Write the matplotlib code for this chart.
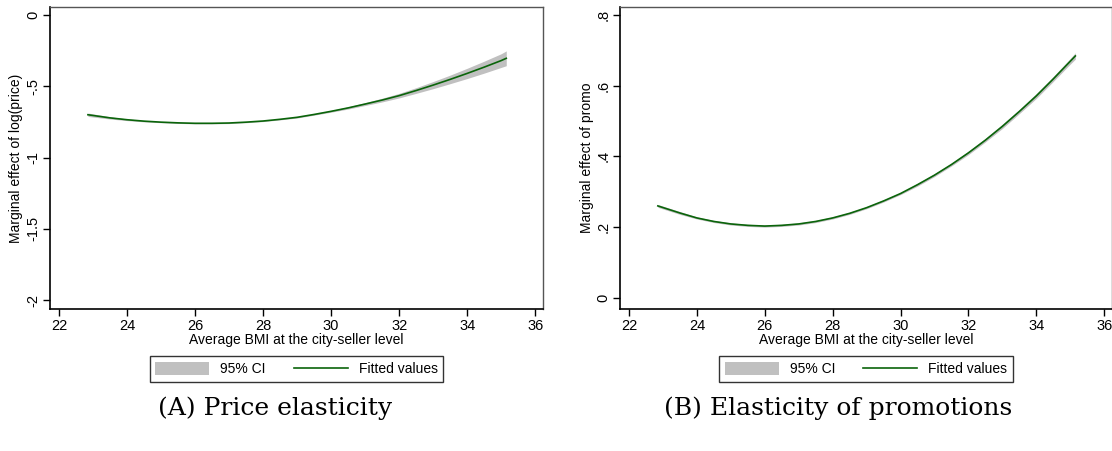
import matplotlib
matplotlib.use("Agg")
import matplotlib.pyplot as plt
from matplotlib.patches import Patch
from matplotlib.lines import Line2D
import numpy as np

# ---- data ----
bmi = [22.85, 23.5, 24, 24.5, 25, 25.5, 26, 26.5, 27, 27.5, 28, 28.5, 29,
       29.5, 30, 30.5, 31, 31.5, 32, 32.5, 33, 33.5, 34, 34.5, 35, 35.15]
price_fit = [-0.700, -0.722, -0.735, -0.745, -0.752, -0.757, -0.760, -0.760,
             -0.758, -0.752, -0.744, -0.732, -0.718, -0.698, -0.676, -0.652,
             -0.625, -0.597, -0.566, -0.530, -0.492, -0.452, -0.410, -0.366,
             -0.320, -0.304]
price_ci_half = [0.012, 0.008, 0.006, 0.005, 0.004, 0.004, 0.004, 0.004,
                 0.004, 0.004, 0.004, 0.004, 0.005, 0.005, 0.006, 0.008,
                 0.010, 0.013, 0.016, 0.020, 0.025, 0.030, 0.036, 0.042,
                 0.048, 0.052]
promo_fit = [0.260, 0.240, 0.226, 0.216, 0.209, 0.205, 0.203, 0.205, 0.209,
             0.216, 0.226, 0.239, 0.255, 0.274, 0.295, 0.320, 0.347, 0.377,
             0.410, 0.446, 0.485, 0.527, 0.571, 0.619, 0.669, 0.684]
promo_ci_half = [0.004, 0.004, 0.003, 0.003, 0.003, 0.003, 0.003, 0.003,
                 0.003, 0.003, 0.003, 0.003, 0.003, 0.003, 0.003, 0.004,
                 0.004, 0.004, 0.005, 0.005, 0.006, 0.006, 0.007, 0.007,
                 0.008, 0.009]

x_ticks = [22, 24, 26, 28, 30, 32, 34, 36]
price_yticks = [0, -0.5, -1, -1.5, -2]
price_yticklabels = ["0", "-.5", "-1", "-1.5", "-2"]
promo_yticks = [0, 0.2, 0.4, 0.6, 0.8]
promo_yticklabels = ["0", ".2", ".4", ".6", ".8"]

xlabel = "Average BMI at the city-seller level"
ylabels = ["Marginal effect of log(price)", "Marginal effect of promo"]
captions = ["(A) Price elasticity", "(B) Elasticity of promotions"]
legend_labels = ["95% CI", "Fitted values"]

CI_COLOR = "#c0c0c0"
FIT_COLOR = "#0a640a"

plt.rcParams['font.family'] = ['Liberation Sans', 'DejaVu Sans']

W, H = 1112, 451
fig = plt.figure(figsize=(W / 100, H / 100), dpi=100)


def px_rect(l, t, r, b):
    return [l / W, 1 - b / H, (r - l) / W, (b - t) / H]


axA = fig.add_axes(px_rect(50, 7, 543, 309))
axB = fig.add_axes(px_rect(620, 7, 1112, 309))

panels = [
    (axA, price_fit, price_ci_half, price_yticks, price_yticklabels,
     (-2.063, 0.056)),
    (axB, promo_fit, promo_ci_half, promo_yticks, promo_yticklabels,
     (-0.0315, 0.8225)),
]

for i, (ax, fit, half, yt, ytl, ylim) in enumerate(panels):
    fit = np.array(fit)
    half = np.array(half)
    ax.fill_between(bmi, fit - half, fit + half, color=CI_COLOR, lw=0)
    ax.plot(bmi, fit, color=FIT_COLOR, lw=1.2, solid_joinstyle='round')
    ax.set_xlim(21.735, 36.23)
    ax.set_ylim(*ylim)
    ax.set_xticks(x_ticks)
    ax.set_xticklabels([str(t) for t in x_ticks], fontsize=10.5)
    ax.set_yticks(yt)
    ax.set_yticklabels(ytl, fontsize=10.5, rotation=90, va='center')
    ax.tick_params(direction='out', length=5, width=1, colors='black',
                   pad=2)
    ax.set_xlabel(xlabel, fontsize=10, labelpad=0)
    ax.set_ylabel(ylabels[i], fontsize=10, labelpad=2)
    for s in ['left', 'bottom']:
        ax.spines[s].set_color('black')
        ax.spines[s].set_linewidth(1.2)
    for s in ['top', 'right']:
        ax.spines[s].set_color('#555555')
        ax.spines[s].set_linewidth(1.0)

    handles = [Patch(facecolor=CI_COLOR, edgecolor='none'),
               Line2D([0], [0], color=FIT_COLOR, lw=1.2)]
    bbox = ax.get_position()
    cx = (bbox.x0 + bbox.x1) / 2
    leg = fig.legend(handles, legend_labels, loc='center', ncol=2,
                     bbox_to_anchor=(cx, 1 - 369 / H), fontsize=10,
                     frameon=True, fancybox=False, edgecolor='black',
                     handlelength=3.9, handleheight=1.1, columnspacing=2.0,
                     handletextpad=0.8, borderpad=0.4)
    leg.get_frame().set_linewidth(1.0)

fig.text(275 / W, 1 - 408 / H, captions[0], ha='center', va='center',
         fontsize=18, family=['DejaVu Serif'])
fig.text(838 / W, 1 - 408 / H, captions[1], ha='center', va='center',
         fontsize=18, family=['DejaVu Serif'])

fig.savefig("out.png", dpi=100)
